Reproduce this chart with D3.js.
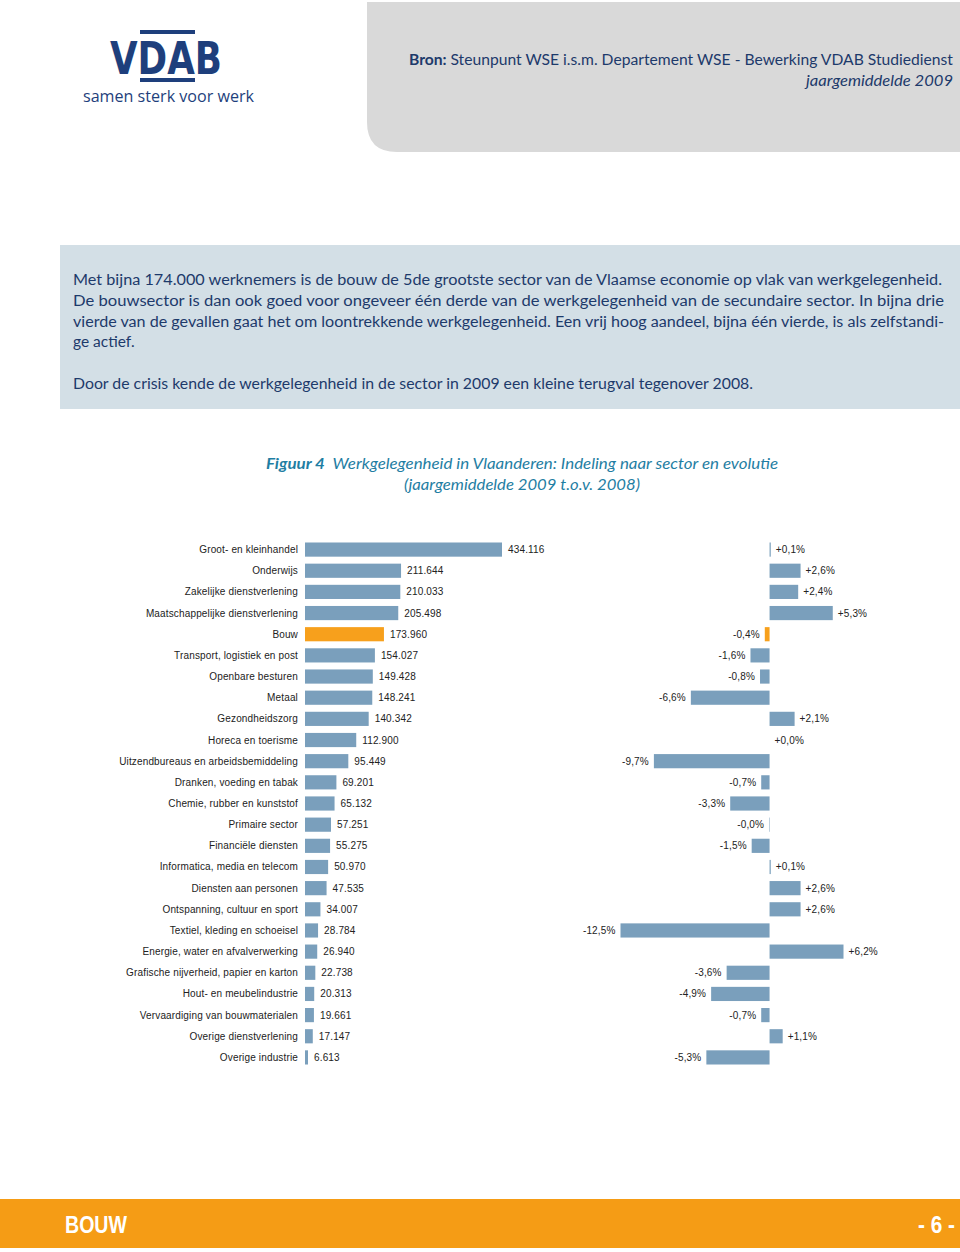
<!DOCTYPE html>
<html>
<head>
<meta charset="utf-8">
<script src="https://cdn.jsdelivr.net/npm/d3@7"></script>
<style>
  html, body { margin: 0; padding: 0; background: #fff; }
  svg { display: block; }
</style>
</head>
<body>
<svg id="page" width="960" height="1252"></svg>
<script>
// ---------- DATA ----------
const sectors = [
  "Groot- en kleinhandel", "Onderwijs", "Zakelijke dienstverlening",
  "Maatschappelijke dienstverlening", "Bouw", "Transport, logistiek en post",
  "Openbare besturen", "Metaal", "Gezondheidszorg", "Horeca en toerisme",
  "Uitzendbureaus en arbeidsbemiddeling", "Dranken, voeding en tabak",
  "Chemie, rubber en kunststof", "Primaire sector", "Financiële diensten",
  "Informatica, media en telecom", "Diensten aan personen",
  "Ontspanning, cultuur en sport", "Textiel, kleding en schoeisel",
  "Energie, water en afvalverwerking", "Grafische nijverheid, papier en karton",
  "Hout- en meubelindustrie", "Vervaardiging van bouwmaterialen",
  "Overige dienstverlening", "Overige industrie"
];
const employment2009 = [
  434116, 211644, 210033, 205498, 173960, 154027, 149428, 148241, 140342, 112900,
  95449, 69201, 65132, 57251, 55275, 50970, 47535, 34007, 28784, 26940,
  22738, 20313, 19661, 17147, 6613
];
const changePct = [
  0.1, 2.6, 2.4, 5.3, -0.4, -1.6, -0.8, -6.6, 2.1, 0.0,
  -9.7, -0.7, -3.3, -0.04, -1.5, 0.1, 2.6, 2.6, -12.5, 6.2,
  -3.6, -4.9, -0.7, 1.1, -5.3
];
const highlight = "Bouw";

const introLines = [
  "Met bijna 174.000 werknemers is de bouw de 5de grootste sector van de Vlaamse economie op vlak van werkgelegenheid.",
  "De bouwsector is dan ook goed voor ongeveer één derde van de werkgelegenheid van de secundaire sector. In bijna drie",
  "vierde van de gevallen gaat het om loontrekkende werkgelegenheid. Een vrij hoog aandeel, bijna één vierde, is als zelfstandi-",
  "ge actief."
];
const introLine2 = "Door de crisis kende de werkgelegenheid in de sector in 2009 een kleine terugval tegenover 2008.";

// ---------- SETUP ----------
const nl = d3.formatLocale({decimal: ",", thousands: ".", grouping: [3], currency: ["€", ""], minus: "-"});
const fmtInt = nl.format(",d");
const fmtPct = nl.format("+.1f");

const svg = d3.select("#page");
const NAVY = "#1d3a6b";
const BAR = "#7a9fbc";
const ORANGE = "#f7a01c";

// ---------- HEADER ----------
const px0 = 367, py0 = 2, px1 = 960, py1 = 152, r = 30;
svg.append("path")
  .attr("d", `M${px0},${py0} H${px1} V${py1} H${px0 + r} Q${px0},${py1} ${px0},${py1 - r} Z`)
  .attr("fill", "#d9d9d9");

const bron = svg.append("text")
  .attr("x", 409).attr("y", 65)
  .attr("textLength", 544).attr("lengthAdjust", "spacingAndGlyphs")
  .attr("font-family", "Lato, 'Open Sans', sans-serif")
  .attr("font-size", 15.5)
  .attr("fill", NAVY);
bron.append("tspan").attr("font-weight", "bold").text("Bron: ");
bron.append("tspan").text("Steunpunt WSE i.s.m. Departement WSE - Bewerking VDAB Studiedienst");
svg.append("text")
  .attr("x", 806).attr("y", 86)
  .attr("textLength", 147).attr("lengthAdjust", "spacingAndGlyphs")
  .attr("font-family", "Lato, 'Open Sans', sans-serif")
  .attr("font-style", "italic")
  .attr("font-size", 15.5)
  .attr("fill", NAVY)
  .text("jaargemiddelde 2009");

// logo
const LOGO = "#1e3f7c";
svg.append("rect").attr("x", 140).attr("y", 30).attr("width", 55).attr("height", 4).attr("fill", LOGO);
svg.append("rect").attr("x", 140).attr("y", 78).attr("width", 55).attr("height", 4).attr("fill", LOGO);
svg.append("text")
  .attr("x", 110).attr("y", 74)
  .attr("font-family", "'DejaVu Sans', sans-serif")
  .attr("font-weight", "bold")
  .attr("font-size", 44)
  .attr("textLength", 112).attr("lengthAdjust", "spacingAndGlyphs")
  .attr("fill", LOGO)
  .text("VDAB");
svg.append("text")
  .attr("x", 83).attr("y", 102)
  .attr("font-family", "'Open Sans', sans-serif")
  .attr("font-size", 17)
  .attr("textLength", 171).attr("lengthAdjust", "spacingAndGlyphs")
  .attr("fill", LOGO)
  .text("samen sterk voor werk");

// ---------- INTRO BOX ----------
svg.append("rect").attr("x", 60).attr("y", 245).attr("width", 900).attr("height", 164).attr("fill", "#d3dfe6");
const introG = svg.append("g")
  .attr("font-family", "Lato, 'Open Sans', sans-serif")
  .attr("font-size", 15.5)
  .attr("fill", NAVY);
const introWidths = [869, 871, 871, null];
introLines.forEach((t, i) => {
  const tx = introG.append("text").attr("x", 73).attr("y", 285 + i * 20.8).text(t);
  if (introWidths[i]) tx.attr("textLength", introWidths[i]).attr("lengthAdjust", "spacingAndGlyphs");
});
introG.append("text").attr("x", 73).attr("y", 389)
  .attr("textLength", 680).attr("lengthAdjust", "spacingAndGlyphs")
  .text(introLine2);

// ---------- TITLE ----------
const TEAL = "#1f7ea3";
const t1 = svg.append("text")
  .attr("x", 266).attr("y", 469)
  .attr("textLength", 512).attr("lengthAdjust", "spacingAndGlyphs")
  .attr("font-family", "Lato, 'Open Sans', sans-serif")
  .attr("font-style", "italic")
  .attr("font-size", 15.5)
  .attr("fill", TEAL);
t1.append("tspan").attr("font-weight", "bold").text("Figuur 4");
t1.append("tspan").text("\u00a0\u00a0Werkgelegenheid in Vlaanderen: Indeling naar sector en evolutie");
svg.append("text")
  .attr("x", 404).attr("y", 490)
  .attr("textLength", 236).attr("lengthAdjust", "spacingAndGlyphs")
  .attr("font-family", "Lato, 'Open Sans', sans-serif")
  .attr("font-style", "italic")
  .attr("font-size", 15.5)
  .attr("fill", TEAL)
  .text("(jaargemiddelde 2009 t.o.v. 2008)");

// ---------- CHART ----------
const data = sectors.map((s, i) => ({sector: s, emp: employment2009[i], pct: changePct[i]}));

const y = d3.scaleBand().domain(sectors).range([539, 1068]).paddingInner(0.33).paddingOuter(0.165);
const xL = d3.scaleLinear().domain([0, d3.max(employment2009)]).range([305, 502]);
const xR = d3.scaleLinear().domain([-12.5, 6.2]).range([620.5, 843.5]);

const chart = svg.append("g")
  .attr("font-family", "'Liberation Sans', Arial, sans-serif")
  .attr("font-size", 10)
  .attr("letter-spacing", "0.15px")
  .attr("fill", "#222");

chart.append("g").selectAll("text").data(data).join("text")
  .attr("x", 298)
  .attr("y", d => y(d.sector) + y.bandwidth() / 2)
  .attr("dy", "0.35em")
  .attr("text-anchor", "end")
  .text(d => d.sector);

chart.append("g").selectAll("rect").data(data).join("rect")
  .attr("x", xL(0))
  .attr("y", d => y(d.sector))
  .attr("width", d => xL(d.emp) - xL(0))
  .attr("height", y.bandwidth())
  .attr("fill", d => d.sector === highlight ? ORANGE : BAR);

chart.append("g").selectAll("text").data(data).join("text")
  .attr("x", d => xL(d.emp) + 6)
  .attr("y", d => y(d.sector) + y.bandwidth() / 2)
  .attr("dy", "0.35em")
  .text(d => fmtInt(d.emp));

chart.append("g").selectAll("rect").data(data).join("rect")
  .attr("x", d => Math.min(xR(0), xR(d.pct)))
  .attr("y", d => y(d.sector))
  .attr("width", d => Math.abs(xR(d.pct) - xR(0)))
  .attr("height", y.bandwidth())
  .attr("fill", d => d.sector === highlight ? ORANGE : BAR);

chart.append("g").selectAll("text").data(data).join("text")
  .attr("x", d => d.pct < 0 ? xR(d.pct) - 5 : xR(d.pct) + 5)
  .attr("y", d => y(d.sector) + y.bandwidth() / 2)
  .attr("dy", "0.35em")
  .attr("text-anchor", d => d.pct < 0 ? "end" : "start")
  .text(d => fmtPct(d.pct) + "%");

// ---------- FOOTER ----------
svg.append("rect").attr("x", 0).attr("y", 1199).attr("width", 960).attr("height", 49).attr("fill", "#f59c15");
svg.append("text")
  .attr("x", 65).attr("y", 1233)
  .attr("font-family", "'Liberation Sans Narrow', 'Liberation Sans', sans-serif")
  .attr("font-weight", "bold")
  .attr("font-size", 24)
  .attr("textLength", 62).attr("lengthAdjust", "spacingAndGlyphs")
  .attr("fill", "#fff")
  .text("BOUW");
svg.append("text")
  .attr("x", 918).attr("y", 1233)
  .attr("textLength", 37).attr("lengthAdjust", "spacingAndGlyphs")
  .attr("font-family", "'Liberation Sans Narrow', 'Liberation Sans', sans-serif")
  .attr("font-weight", "bold")
  .attr("font-size", 24)
  .attr("fill", "#fff")
  .text("- 6 -");
</script>
</body>
</html>
